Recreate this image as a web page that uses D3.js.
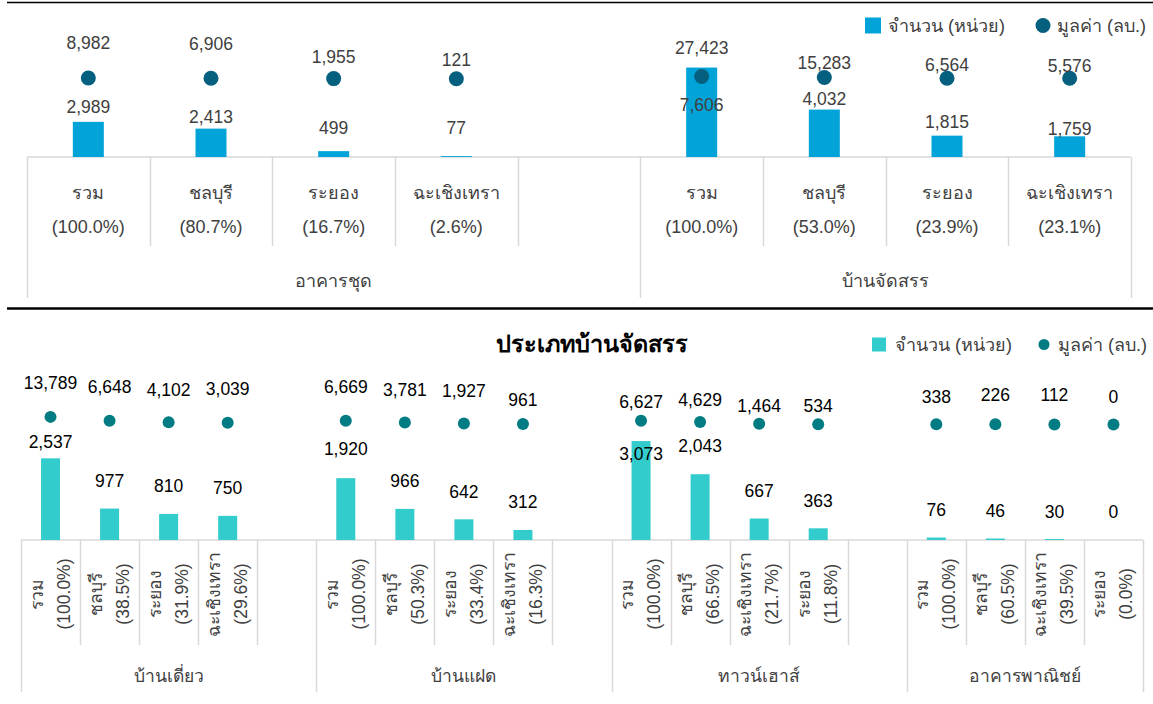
<!DOCTYPE html>
<html lang="th">
<head>
<meta charset="utf-8">
<script src="https://cdn.jsdelivr.net/npm/d3@7"></script>
<style>
  html, body { margin: 0; padding: 0; background: #ffffff; }
  svg { display: block; font-family: "Liberation Sans", Arial, "Noto Sans", sans-serif; }
</style>
</head>
<body>
<svg id="chart" width="1153" height="704"></svg>
<script>
// ---------- Panel 1: อาคารชุด / บ้านจัดสรร ----------
const topGroups    = ["อาคารชุด", "บ้านจัดสรร"];
const topProvinces = [["รวม", "ชลบุรี", "ระยอง", "ฉะเชิงเทรา"],
                      ["รวม", "ชลบุรี", "ระยอง", "ฉะเชิงเทรา"]];
const topShares    = [["100.0%", "80.7%", "16.7%", "2.6%"],
                      ["100.0%", "53.0%", "23.9%", "23.1%"]];
const topUnits     = [[2989, 2413, 499, 77], [7606, 4032, 1815, 1759]];       // จำนวน (หน่วย)
const topValues    = [[8982, 6906, 1955, 121], [27423, 15283, 6564, 5576]];   // มูลค่า (ลบ.)

// ---------- Panel 2: ประเภทบ้านจัดสรร ----------
const bottomTitle     = "ประเภทบ้านจัดสรร";
const bottomGroups    = ["บ้านเดี่ยว", "บ้านแฝด", "ทาวน์เฮาส์", "อาคารพาณิชย์"];
const bottomProvinces = [["รวม", "ชลบุรี", "ระยอง", "ฉะเชิงเทรา"],
                         ["รวม", "ชลบุรี", "ระยอง", "ฉะเชิงเทรา"],
                         ["รวม", "ชลบุรี", "ฉะเชิงเทรา", "ระยอง"],
                         ["รวม", "ชลบุรี", "ฉะเชิงเทรา", "ระยอง"]];
const bottomShares    = [["100.0%", "38.5%", "31.9%", "29.6%"],
                         ["100.0%", "50.3%", "33.4%", "16.3%"],
                         ["100.0%", "66.5%", "21.7%", "11.8%"],
                         ["100.0%", "60.5%", "39.5%", "0.0%"]];
const bottomUnits     = [[2537, 977, 810, 750], [1920, 966, 642, 312],
                         [3073, 2043, 667, 363], [76, 46, 30, 0]];
const bottomValues    = [[13789, 6648, 4102, 3039], [6669, 3781, 1927, 961],
                         [6627, 4629, 1464, 534], [338, 226, 112, 0]];

const legendNames = ["จำนวน (หน่วย)", "มูลค่า (ลบ.)"];

// Hand-placed label offsets (px, from the mark to the label's centre)
const topUnitLabelDy     = [[-15, -12, -23, -28], [37, -11, -14, -8]];
const topValueLabelDy    = [[-35, -35, -22, -19], [-29, -15, -14, -13]];
const bottomUnitLabelDy  = [[-17, -28, -28, -28], [-29, -28, -28, -28],
                            [13, -29, -28, -28], [-28, -28, -27, -28]];
const bottomValueLabelDy = [[-34, -34, -33, -34], [-34, -33, -33, -24],
                            [-19, -22, -18, -18], [-28, -30, -30, -28]];

const svg = d3.select("#chart");
const fmt = d3.format(",");

function drawPanel(o) {
  const g = svg.append("g");

  // slot keys: every province of every group, plus one blank slot between groups
  const slots = [];
  const groupStarts = [];
  o.groups.forEach((grp, gi) => {
    groupStarts.push(slots.length);
    o.provinces[gi].forEach((p, i) => slots.push(gi + "|" + i));
    if (gi < o.groups.length - 1) slots.push(gi + "|gap");
  });

  const x = d3.scaleBand().domain(slots).range([o.x0, o.x1]).padding(0);
  const bw = x.bandwidth();
  const yU = d3.scaleLinear().domain(o.unitDomain).range([o.yBase, o.yTop]);
  const yV = d3.scaleLinear().domain(o.valueDomain).range([o.yBase, o.yTop]);

  const rows = [];
  o.groups.forEach((grp, gi) => {
    o.provinces[gi].forEach((p, i) => rows.push({
      key: gi + "|" + i, gi, i, province: p, share: o.shares[gi][i],
      units: o.units[gi][i], value: o.values[gi][i],
      udy: o.unitDy[gi][i], vdy: o.valueDy[gi][i]
    }));
  });

  // category grid (multi-level axis)
  const grid = g.append("g").attr("stroke", "#d9d9d9").attr("stroke-width", 1.5);
  grid.append("line").attr("x1", o.x0).attr("x2", o.x1).attr("y1", o.yBase).attr("y2", o.yBase);
  const edges = slots.map((s, k) => ({ pos: x(s), group: groupStarts.includes(k) }));
  edges.push({ pos: o.x1, group: true });
  grid.selectAll("line.edge").data(edges).join("line")
    .attr("class", "edge")
    .attr("x1", d => Math.round(d.pos) + 0.5).attr("x2", d => Math.round(d.pos) + 0.5)
    .attr("y1", o.yBase).attr("y2", d => d.group ? o.yGroupEnd : o.yCatEnd);

  // bars
  g.selectAll("rect.bar").data(rows).join("rect")
    .attr("class", "bar")
    .attr("x", d => x(d.key) + bw / 2 - o.barW / 2)
    .attr("width", o.barW)
    .attr("y", d => yU(d.units))
    .attr("height", d => o.yBase - yU(d.units))
    .attr("fill", o.barColor);

  // dots
  g.selectAll("circle.dot").data(rows).join("circle")
    .attr("class", "dot")
    .attr("cx", d => x(d.key) + bw / 2)
    .attr("cy", d => yV(d.value))
    .attr("r", o.dotR)
    .attr("fill", o.dotColor);

  // value labels
  g.selectAll("text.ulab").data(rows).join("text")
    .attr("class", "ulab")
    .attr("x", d => x(d.key) + bw / 2)
    .attr("y", d => yU(d.units) + d.udy)
    .attr("dy", "0.36em")
    .attr("text-anchor", "middle")
    .attr("font-size", o.fs).attr("fill", o.labelColor)
    .text(d => fmt(d.units));
  g.selectAll("text.vlab").data(rows).join("text")
    .attr("class", "vlab")
    .attr("x", d => x(d.key) + bw / 2)
    .attr("y", d => yV(d.value) + d.vdy)
    .attr("dy", "0.36em")
    .attr("text-anchor", "middle")
    .attr("font-size", o.fs).attr("fill", o.labelColor)
    .text(d => fmt(d.value));

  // category labels
  const cat = g.selectAll("g.cat").data(rows).join("g").attr("class", "cat")
    .attr("font-size", o.catFs).attr("fill", o.catColor).attr("text-anchor", "middle");
  if (o.rotate) {
    cat.attr("transform", d => `translate(${x(d.key) + bw / 2},${o.catY}) rotate(-90)`);
    cat.append("text").attr("x", 0).attr("y", o.catLine1).text(d => d.province);
    cat.append("text").attr("x", 0).attr("y", o.catLine2).text(d => "(" + d.share + ")");
  } else {
    cat.attr("transform", d => `translate(${x(d.key) + bw / 2},0)`);
    cat.append("text").attr("y", o.catLine1).text(d => d.province);
    cat.append("text").attr("y", o.catLine2).text(d => "(" + d.share + ")");
  }

  // group labels
  g.selectAll("text.grp").data(o.groups).join("text")
    .attr("class", "grp")
    .attr("x", (d, gi) => {
      const a = x(slots[groupStarts[gi]]);
      const b = gi < o.groups.length - 1 ? x(slots[groupStarts[gi + 1]]) : o.x1;
      return (a + b) / 2;
    })
    .attr("y", o.groupY)
    .attr("text-anchor", "middle")
    .attr("font-size", o.catFs).attr("fill", o.catColor)
    .text(d => d);

  // legend
  const lg = g.append("g").attr("font-size", o.legFs).attr("fill", o.legColor);
  lg.append("rect").attr("x", o.leg.sqX).attr("y", o.leg.y - o.leg.sq / 2)
    .attr("width", o.leg.sq).attr("height", o.leg.sq).attr("fill", o.barColor);
  lg.append("text").attr("x", o.leg.t1X).attr("y", o.leg.y).attr("dy", "0.36em").text(legendNames[0]);
  lg.append("circle").attr("cx", o.leg.dotX).attr("cy", o.leg.y).attr("r", o.leg.dotR).attr("fill", o.dotColor);
  lg.append("text").attr("x", o.leg.t2X).attr("y", o.leg.y).attr("dy", "0.36em").text(legendNames[1]);
}

// separators
svg.append("line").attr("x1", 7).attr("x2", 1153).attr("y1", 2.5).attr("y2", 2.5)
  .attr("stroke", "#000").attr("stroke-width", 1.5);
svg.append("line").attr("x1", 7).attr("x2", 1153).attr("y1", 308.5).attr("y2", 308.5)
  .attr("stroke", "#000").attr("stroke-width", 2.5);

drawPanel({
  groups: topGroups, provinces: topProvinces, shares: topShares,
  units: topUnits, values: topValues,
  unitDy: topUnitLabelDy, valueDy: topValueLabelDy,
  x0: 27, x1: 1131, yBase: 157, yTop: 30,
  unitDomain: [0, 10800], valueDomain: [-930000, 580000],
  barW: 31, dotR: 7.5,
  barColor: "#02a3d8", dotColor: "#05607f",
  fs: 17.5, labelColor: "#404040",
  catFs: 18, catColor: "#404040", rotate: false,
  catLine1: 199, catLine2: 233, yCatEnd: 246, yGroupEnd: 298, groupY: 287,
  legFs: 18, legColor: "#404040",
  leg: { y: 25.5, sqX: 865, sq: 16, t1X: 888, dotX: 1043, dotR: 7.5, t2X: 1057 }
});

drawPanel({
  groups: bottomGroups, provinces: bottomProvinces, shares: bottomShares,
  units: bottomUnits, values: bottomValues,
  unitDy: bottomUnitLabelDy, valueDy: bottomValueLabelDy,
  x0: 21, x1: 1143, yBase: 540, yTop: 370,
  unitDomain: [0, 5280], valueDomain: [-210000, 99000],
  barW: 19, dotR: 6,
  barColor: "#33cccc", dotColor: "#007c82",
  fs: 17.5, labelColor: "#000000",
  catFs: 17.5, catColor: "#404040", rotate: true,
  catY: 594, catLine1: -8, catLine2: 19, yCatEnd: 645, yGroupEnd: 692, groupY: 682,
  legFs: 18, legColor: "#404040",
  leg: { y: 344.5, sqX: 872, sq: 14, t1X: 895, dotX: 1044, dotR: 5.5, t2X: 1058 }
});

svg.append("text").attr("x", 592).attr("y", 344).attr("dy", "0.36em")
  .attr("text-anchor", "middle").attr("font-size", 23.5).attr("font-weight", "bold")
  .attr("fill", "#000").text(bottomTitle);
</script>
</body>
</html>
